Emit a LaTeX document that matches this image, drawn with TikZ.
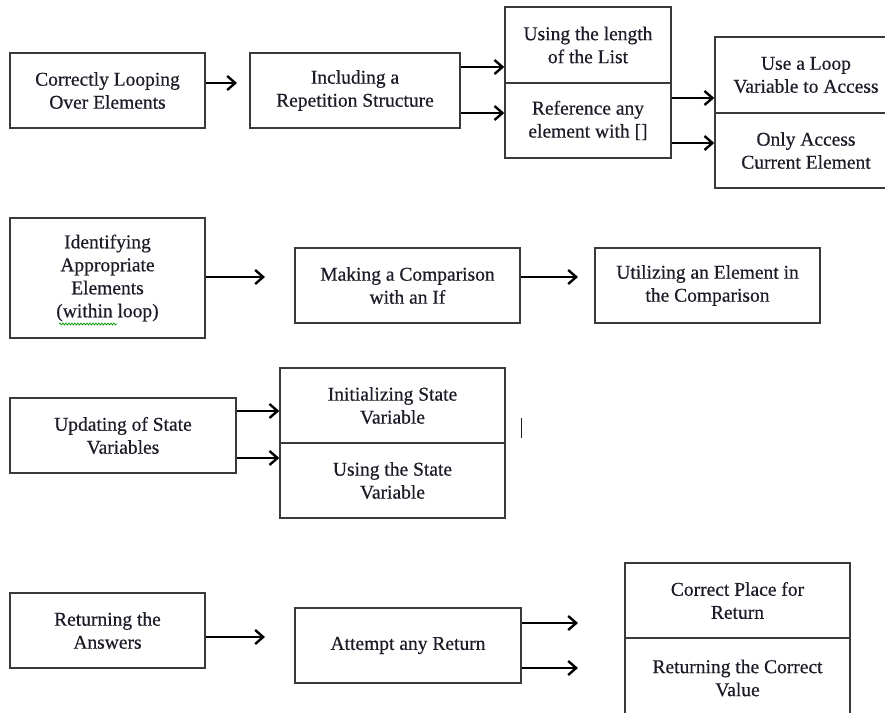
\documentclass[tikz,border=0pt]{standalone}
\usepackage{fontspec}
\setmainfont[FakeBold=0.5]{Liberation Serif}
\usetikzlibrary{arrows.meta,decorations.pathmorphing}
\definecolor{boxc}{HTML}{3A3A3A}
\definecolor{txtc}{HTML}{1C1C28}
\begin{document}
\begin{tikzpicture}[x=1pt,y=-1pt,
  box/.style={draw=boxc, line width=1.4pt, align=center, inner sep=0pt,
    font=\fontsize{19.5}{23}\selectfont, text=txtc},
  arr/.style={line width=2.4pt, draw=black,
    -{Straight Barb[length=8pt,width=14pt,line width=2.4pt]}}]
\useasboundingbox (0,0) rectangle (885,712);
\fill[white] (0,0) rectangle (885,712);

% Row 1
\node[box, minimum width=195, minimum height=75] (A) at (107.5,90.5) {Correctly Looping\\Over Elements};
\node[box, minimum width=210, minimum height=75] (B) at (355,90.5) {Including a\\Repetition Structure};
\node[box, minimum width=166, minimum height=76] (C1) at (588,45) {Using the length\\of the List};
\node[box, minimum width=166, minimum height=75] (C2) at (588,120.5) {Reference any\\element with []};
\node[box, minimum width=182, minimum height=76] (D1) at (806,75) {Use a Loop\\Variable to Access};
\node[box, minimum width=182, minimum height=75] (D2) at (806,150.5) {Only Access\\Current Element};

\coordinate (ab) at (237,83);
\draw[arr] (A.east |- ab) -- (ab);
\draw[arr] (B.east |- 0,67) -- (C1.west |- 0,67);
\draw[arr] (B.east |- 0,113) -- (C2.west |- 0,113);
\draw[arr] (C2.east |- 0,98) -- (D1.west |- 0,98);
\draw[arr] (C2.east |- 0,143) -- (D2.west |- 0,143);

% Row 2
\node[box, minimum width=195, minimum height=120] (E) at (107.5,278) {Identifying\\Appropriate\\Elements\\(within loop)};
\node[box, minimum width=225, minimum height=75] (F) at (407.5,285.5) {Making a Comparison\\with an If};
\node[box, minimum width=225, minimum height=75] (G) at (707.5,285.5) {Utilizing an Element in\\the Comparison};
\draw[green!60!black, line width=0.7pt, decorate,
  decoration={snake, amplitude=1pt, segment length=3pt}] (59,324) -- (117,324);

\coordinate (ef) at (265,277);
\draw[arr] (E.east |- ef) -- (ef);
\coordinate (fg) at (578,277);
\draw[arr] (F.east |- fg) -- (fg);

% Row 3
\node[box, minimum width=226, minimum height=75] (H) at (123,435.5) {Updating of State\\Variables};
\node[box, minimum width=225, minimum height=75] (I1) at (392.5,405.5) {Initializing State\\Variable};
\node[box, minimum width=225, minimum height=75] (I2) at (392.5,480.5) {Using the State\\Variable};
\draw[arr] (H.east |- 0,411) -- (I1.west |- 0,411);
\draw[arr] (H.east |- 0,458) -- (I2.west |- 0,458);
\draw[line width=1pt, txtc] (521,418) -- (521,438);

% Row 4
\node[box, minimum width=195, minimum height=75] (J) at (107.5,630.5) {Returning the\\Answers};
\node[box, minimum width=226, minimum height=75] (K) at (408,645.5) {Attempt any Return};
\node[box, minimum width=225, minimum height=75] (L1) at (737.5,600.5) {Correct Place for\\Return};
\node[box, minimum width=225, minimum height=80] (L2) at (737.5,678) {Returning the Correct\\Value};

\coordinate (jk) at (265,637);
\draw[arr] (J.east |- jk) -- (jk);
\coordinate (kl1) at (578,623);
\coordinate (kl2) at (578,668);
\draw[arr] (K.east |- kl1) -- (kl1);
\draw[arr] (K.east |- kl2) -- (kl2);
\end{tikzpicture}
\end{document}
